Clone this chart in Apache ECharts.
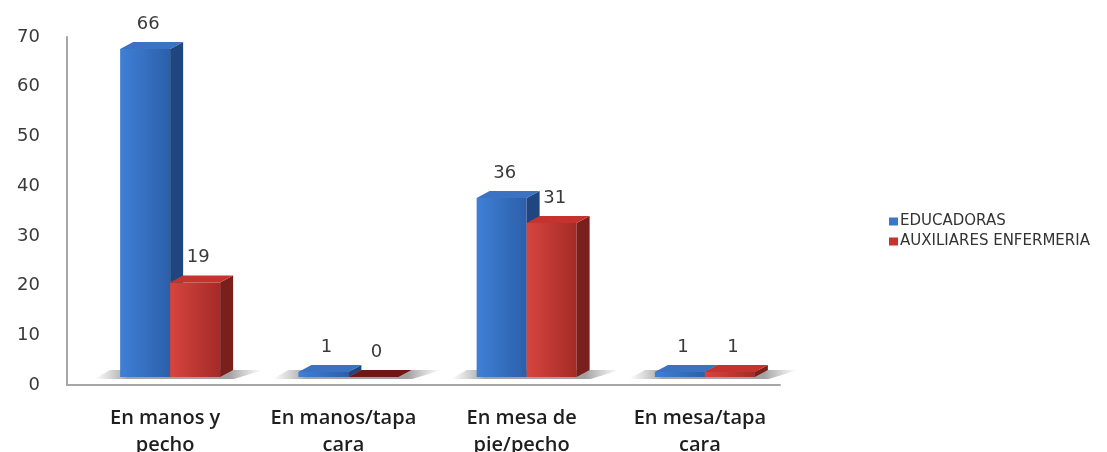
<!DOCTYPE html>
<html>
<head>
<meta charset="utf-8">
<script src="https://cdn.jsdelivr.net/npm/echarts@6/dist/echarts.min.js"></script>
<style>
  html, body { margin: 0; padding: 0; background: #fff; }
  #chart { width: 1107px; height: 452px; }
</style>
</head>
<body>
<div id="chart"></div>
<script>
// Categories and values per group
const categories = ['En manos y\npecho', 'En manos/tapa\ncara', 'En mesa de\npie/pecho', 'En mesa/tapa\ncara'];
const seriesNames = ['EDUCADORAS', 'AUXILIARES ENFERMERIA'];
const educadoras = [66, 1, 36, 1];
const auxiliares = [19, 0, 31, 1];
const yTicks = [0, 10, 20, 30, 40, 50, 60, 70];

// 3D bar look
const BW = 50;      // front face width
const DX = 13;      // depth offset, x
const DY = 7;       // depth offset, y
const SHIFT = 14;   // horizontal placement of the pair inside its band
const LIFT = 8;     // front faces sit slightly above the floor line

const palettes = [
  { front: ['#3f80d6', '#2c5faa'], side: '#1f467e', top: '#3b72c2', flat: '#3a76c8' },
  { front: ['#d8443f', '#a42b27'], side: '#7a1f1c', top: '#c4332e', flat: '#6e1714' }
];

function barRenderer(si) {
  const pal = palettes[si];
  return function (params, api) {
    const ci = api.value(0);
    const v = api.value(1);
    const base = api.coord([ci, 0]);
    const top = api.coord([ci, v]);
    const x0 = base[0] + SHIFT - (si === 0 ? BW : 0);
    const yB = base[1] - LIFT;
    const yT = top[1] - LIFT;
    const children = [];
    children.push({
      type: 'rect',
      shape: { x: x0, y: yT, width: BW, height: Math.max(yB - yT, 0) },
      style: {
        fill: new echarts.graphic.LinearGradient(0, 0, 1, 0, [
          { offset: 0, color: pal.front[0] },
          { offset: 1, color: pal.front[1] }
        ])
      }
    });
    children.push({
      type: 'polygon',
      shape: { points: [[x0 + BW, yT], [x0 + BW + DX, yT - DY], [x0 + BW + DX, yB - DY], [x0 + BW, yB]] },
      style: { fill: pal.side }
    });
    children.push({
      type: 'polygon',
      shape: { points: [[x0, yT], [x0 + BW, yT], [x0 + BW + DX, yT - DY], [x0 + DX, yT - DY]] },
      style: { fill: v === 0 ? pal.flat : pal.top }
    });
    children.push({
      type: 'text',
      x: x0 + BW / 2 + 3,
      y: yT - 25,
      style: {
        text: String(v),
        align: 'center',
        verticalAlign: 'middle',
        font: '18px "DejaVu Sans"',
        fill: '#3a3a3a'
      }
    });
    return { type: 'group', children: children };
  };
}

// soft floor shadow under each pair of bars
function shadowRenderer(params, api) {
  const ci = api.value(0);
  const base = api.coord([ci, 0]);
  const cx = base[0] + SHIFT;
  const yB = base[1] - LIFT;
  return {
    type: 'polygon',
    shape: { points: [[cx - BW - 26, yB + 2], [cx + BW + 14, yB + 2], [cx + BW + DX + 30, yB - DY], [cx - BW - 10, yB - DY]] },
    style: {
      fill: new echarts.graphic.LinearGradient(0, 0, 1, 0, [
        { offset: 0, color: 'rgba(130,130,130,0)' },
        { offset: 0.2, color: 'rgba(100,100,100,0.6)' },
        { offset: 0.8, color: 'rgba(100,100,100,0.6)' },
        { offset: 1, color: 'rgba(130,130,130,0)' }
      ])
    }
  };
}

const chart = echarts.init(document.getElementById('chart'), null, { renderer: 'canvas' });
chart.setOption({
  animation: false,
  backgroundColor: '#ffffff',
  grid: { left: 67, right: 327, top: 37, bottom: 67, containLabel: false, outerBoundsMode: 'none' },
  legend: {
    orient: 'vertical',
    left: 884,
    top: 209,
    itemWidth: 9,
    itemHeight: 8,
    itemGap: 5,
    icon: 'rect',
    data: seriesNames,
    textStyle: { fontFamily: '"DejaVu Sans", sans-serif', fontSize: 15, color: '#333', padding: [0, 0, 0, -3] }
  },
  xAxis: {
    type: 'category',
    data: categories,
    axisLine: { show: true, lineStyle: { color: '#a6a6a6', width: 2 } },
    axisTick: { show: false },
    axisLabel: {
      interval: 0,
      margin: 20,
      lineHeight: 27,
      fontFamily: '"Open Sans", sans-serif',
      fontWeight: 600,
      fontSize: 20,
      color: '#1e1e1e',
      padding: [0, 0, 0, 18]
    }
  },
  yAxis: {
    type: 'value',
    min: 0,
    max: 70,
    interval: 10,
    splitLine: { show: false },
    axisLine: { show: true, lineStyle: { color: '#a6a6a6', width: 2 } },
    axisTick: { show: false },
    axisLabel: {
      margin: 27,
      fontFamily: '"DejaVu Sans", sans-serif',
      fontSize: 18,
      color: '#3a3a3a',
      formatter: function (val) { return yTicks.indexOf(val) >= 0 ? String(val) : ''; }
    }
  },
  series: [
    {
      type: 'custom',
      name: 'floor',
      silent: true,
      z: 1,
      renderItem: shadowRenderer,
      encode: { x: 0, y: 1 },
      data: educadoras.map((v, i) => [i, 0])
    },
    {
      type: 'custom',
      name: seriesNames[0],
      z: 2,
      itemStyle: { color: '#3a76cc' },
      renderItem: barRenderer(0),
      encode: { x: 0, y: 1 },
      data: educadoras.map((v, i) => [i, v])
    },
    {
      type: 'custom',
      name: seriesNames[1],
      z: 3,
      itemStyle: { color: '#c9322d' },
      renderItem: barRenderer(1),
      encode: { x: 0, y: 1 },
      data: auxiliares.map((v, i) => [i, v])
    }
  ]
});
</script>
</body>
</html>
